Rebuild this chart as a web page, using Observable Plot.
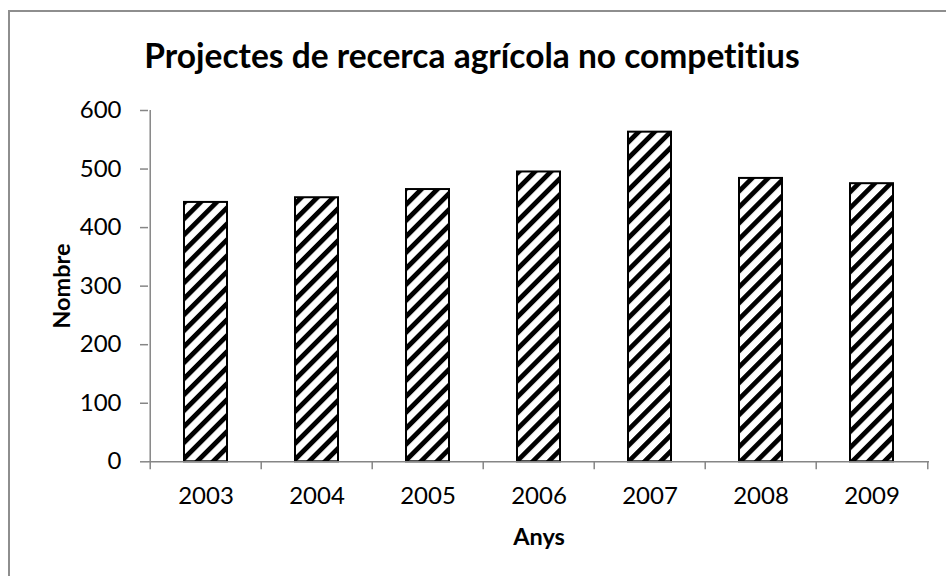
<!DOCTYPE html>
<html><head><meta charset="utf-8">
<script src="https://cdn.jsdelivr.net/npm/d3@7"></script>
<script src="https://cdn.jsdelivr.net/npm/@observablehq/plot@0.6"></script>
<style>
html,body{margin:0;padding:0;background:#fff;}
#wrap{position:relative;width:946px;height:576px;overflow:hidden;background:#fff;}
#border{position:absolute;left:8px;top:10px;width:1000px;height:1000px;border:2px solid #8e8e8e;box-sizing:border-box;}
#chart{position:absolute;left:0;top:0;}
svg text{font-variant-ligatures:none;}
</style></head><body>
<div id="wrap"><div id="border"></div><div id="chart"></div></div>
<script>
const years = ["2003", "2004", "2005", "2006", "2007", "2008", "2009"];
const counts = [443, 451, 465, 495, 563, 484, 475];
const yTicks = [0, 100, 200, 300, 400, 500, 600];
const title = "Projectes de recerca agrícola no competitius";
const xLabel = "Anys";
const yLabel = "Nombre";

const data = years.map((y, i) => ({year: y, n: counts[i]}));
const W = 946, H = 576, mL = 148, mR = 17, mT = 110, mB = 114.7;
const bw = (W - mL - mR) / years.length;
const ins = 34;
const font = "Lato, 'Open Sans', sans-serif";
const axisGray = "#868686";

const plot = Plot.plot({
  width: W, height: H,
  marginLeft: mL, marginRight: mR, marginTop: mT, marginBottom: mB,
  style: {fontFamily: font, background: "transparent", overflow: "visible", color: "#000"},
  x: {domain: years, padding: 0, label: null},
  y: {domain: [0, 600], label: null},
  marks: [
    Plot.barY(data, {x: "year", y: "n", fill: "url(#hatch)", stroke: "#000", strokeWidth: 2, insetLeft: ins, insetRight: ins}),
    Plot.ruleY([0], {stroke: axisGray, strokeWidth: 1.5}),
    Plot.ruleX([years[0]], {dx: -bw / 2, y1: 0, y2: 600, stroke: axisGray, strokeWidth: 1.5}),
    Plot.ruleX(years, {dx: -bw / 2, y1: 0, y2: 0, insetBottom: -8, stroke: axisGray, strokeWidth: 1.5}),
    Plot.ruleX([years[years.length - 1]], {dx: bw / 2, y1: 0, y2: 0, insetBottom: -8, stroke: axisGray, strokeWidth: 1.5}),
    Plot.axisY({ticks: yTicks, tickSize: 8, tickPadding: 19, stroke: axisGray, strokeWidth: 1.5, fill: "#000", fontSize: 24, label: null}),
    Plot.axisX({tickSize: 0, tickPadding: 25, fill: "#000", fontSize: 24, label: null}),
    Plot.text([title], {frameAnchor: "top", dx: -67, dy: -53, text: d => d, fontSize: 33.5, fontWeight: "bold", fill: "#000", lineAnchor: "middle"}),
    Plot.text([xLabel], {frameAnchor: "bottom", dy: 76, text: d => d, fontSize: 23.5, fontWeight: "bold", fill: "#000", lineAnchor: "middle"}),
    Plot.text([yLabel], {frameAnchor: "left", dx: -86, text: d => d, rotate: -90, textAnchor: "middle", fontSize: 23.5, fontWeight: "bold", fill: "#000", lineAnchor: "middle"})
  ]
});

const svg = d3.select(plot);
const defs = svg.insert("defs", ":first-child");
const p = defs.append("pattern").attr("id", "hatch").attr("patternUnits", "userSpaceOnUse")
  .attr("width", 11.3).attr("height", 11.3).attr("patternTransform", "rotate(45)");
p.append("rect").attr("width", 11.3).attr("height", 11.3).attr("fill", "#fff");
p.append("rect").attr("width", 4.8).attr("height", 11.3).attr("fill", "#000");

document.getElementById("chart").appendChild(plot);
</script>
</body></html>
